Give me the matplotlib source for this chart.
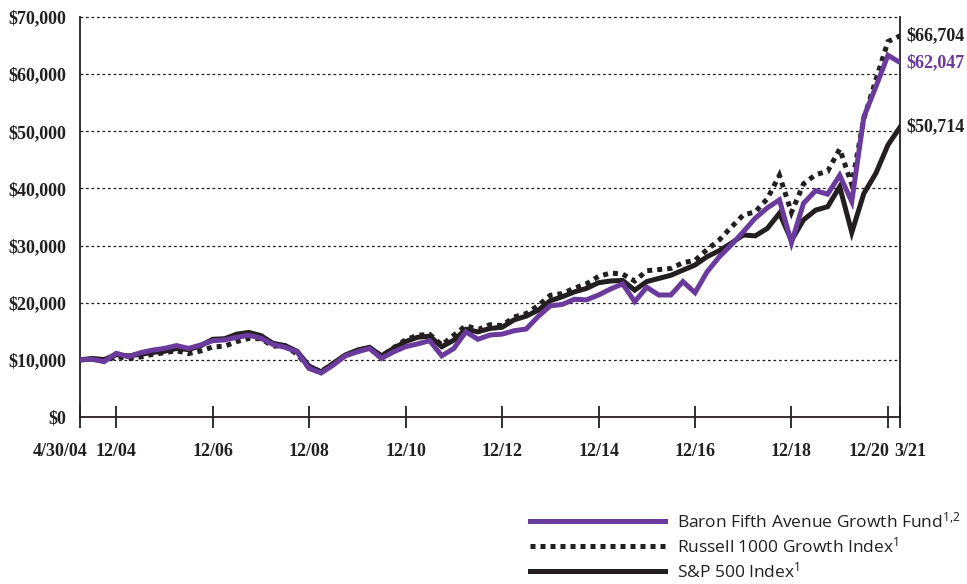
import matplotlib
matplotlib.use("Agg")
import matplotlib.pyplot as plt
from matplotlib.lines import Line2D
import numpy as np

# Quarterly growth of a hypothetical $10,000 investment, 4/30/04 through 3/31/21
fund = [10000, 10100, 9700, 11150, 10550, 11250, 11700, 12000, 12500, 12000,
        12600, 13350, 13500, 13950, 14300, 13800, 12700, 12200, 11400, 8500,
        7700, 9100, 10700, 11400, 12000, 10250, 11400, 12300, 12800, 13350,
        10700, 12000, 14900, 13600, 14350, 14500, 15100, 15400, 17600, 19450,
        19700, 20600, 20500, 21350, 22400, 23300, 20200, 22700, 21350, 21350,
        23700, 21750, 25400, 28000, 30100, 32400, 34800, 36600, 38000, 30500,
        37400, 39600, 39000, 42300, 37700, 52500, 57800, 63300, 62047]

russell_growth = [10000, 10150, 9750, 10600, 10200, 10500, 10950, 11250, 11600, 11100,
                  11550, 12250, 12400, 13200, 13750, 13700, 12400, 12450, 11000, 8600,
                  8000, 9350, 10750, 11650, 12150, 10650, 12100, 13500, 14300, 14450,
                  12600, 14300, 16000, 15300, 16150, 16000, 17500, 18100, 19500, 21300,
                  21600, 22550, 23300, 24600, 25200, 25000, 23800, 25600, 25800, 26000,
                  27000, 27400, 29300, 30950, 33200, 35350, 35900, 38200, 42300, 35800,
                  40800, 42400, 43000, 46900, 40700, 52200, 59000, 65700, 66704]

sp500 = [10000, 10250, 10050, 10900, 10700, 10950, 11300, 11500, 12000, 11800,
         12450, 13600, 13700, 14500, 14800, 14250, 12900, 12500, 11500, 8900,
         7900, 9400, 10850, 11700, 12200, 10700, 12000, 13200, 13950, 14150,
         12300, 13450, 15350, 14900, 15500, 15700, 17000, 17650, 18700, 20350,
         21050, 21900, 22500, 23500, 23800, 23900, 22200, 23700, 24250, 24800,
         25700, 26600, 28050, 29100, 30400, 31850, 31700, 33000, 35650, 30900,
         34500, 36200, 36800, 40300, 32300, 39100, 42650, 47600, 50714]

series_names = ["Baron Fifth Avenue Growth Fund$^{1{,}2}$",
                "Russell 1000 Growth Index$^{1}$",
                "S&P 500 Index$^{1}$"]

# x-axis: quarter number counted from 4/30/04
tick_quarters = [0, 3, 11, 19, 27, 35, 43, 51, 59, 67, 68]
tick_labels = ["4/30/04", "12/04", "12/06", "12/08", "12/10", "12/12",
               "12/14", "12/16", "12/18", "12/20", "3/21"]
label_shift_px = [-20, 0, 0, 0, 0, 0, 0, 0, 0, -19, 10]

y_ticks = [0, 10000, 20000, 30000, 40000, 50000, 60000, 70000]

PURPLE = "#6a3a9c"
INK = "#231f20"

plt.rcParams["mathtext.fontset"] = "custom"
plt.rcParams["mathtext.rm"] = "Open Sans"
plt.rcParams["mathtext.it"] = "Open Sans"
plt.rcParams["mathtext.bf"] = "Open Sans"

serif_bold = dict(family="Liberation Serif", weight="bold", size=13)

fig = plt.figure(figsize=(9.67, 5.84), dpi=100)
ax = fig.add_axes([80 / 967, 167 / 584, 820 / 967, 400 / 584])

x = np.arange(len(fund))
lw = 3.6
ax.plot(x, sp500, color=INK, lw=lw, solid_joinstyle="miter", zorder=3)
ax.plot(x, russell_growth, color=INK, lw=lw, linestyle=(0, (1, 1)),
        dash_capstyle="butt", dash_joinstyle="miter", zorder=4)
ax.plot(x, fund, color=PURPLE, lw=lw, solid_joinstyle="miter", zorder=5)

ax.set_xlim(0, len(fund) - 1)
ax.set_ylim(0, 70000)

# dotted horizontal grid
for v in y_ticks[1:]:
    ax.axhline(v, color=INK, lw=0.9, linestyle=(0, (2.2, 2.2)), zorder=1,
               clip_on=False)

for side in ["left", "right", "bottom"]:
    ax.spines[side].set_color(INK)
    ax.spines[side].set_linewidth(1.3)
ax.spines["top"].set_visible(False)

ax.set_yticks(y_ticks)
ax.set_yticklabels([f"${v:,}" for v in y_ticks], **serif_bold, color=INK)
ax.tick_params(axis="y", length=0, pad=10)

ax.set_xticks(tick_quarters)
ax.set_xticklabels([])
ax.tick_params(axis="x", direction="inout", length=16, width=1.3, color=INK)
for q, lab, dx in zip(tick_quarters, tick_labels, label_shift_px):
    ax.annotate(lab, xy=(q, 0), xycoords=("data", "axes fraction"),
                xytext=(dx * 0.72, -35 * 0.72), textcoords="offset points",
                ha="center", va="center", color=INK, annotation_clip=False,
                **serif_bold)

# ending values
for vals, col in [(russell_growth, INK), (fund, PURPLE), (sp500, INK)]:
    ax.annotate(f"${vals[-1]:,}", xy=(x[-1], vals[-1]), xytext=(6 * 0.72, 0),
                textcoords="offset points", ha="left", va="center", color=col,
                annotation_clip=False, **serif_bold)

handles = [Line2D([], [], color=PURPLE, lw=lw),
           Line2D([], [], color=INK, lw=lw, linestyle=(0, (1, 1)),
                  dash_capstyle="butt"),
           Line2D([], [], color=INK, lw=lw)]
fig.legend(handles, series_names, loc="upper left",
           bbox_to_anchor=(530 / 967, 1 - 511 / 584), frameon=False,
           borderpad=0, borderaxespad=0, handlelength=7.75, handletextpad=0.7,
           labelspacing=0.3, prop=dict(family="Open Sans", size=12.5),
           labelcolor=INK)

fig.savefig("out.png", dpi=100)
